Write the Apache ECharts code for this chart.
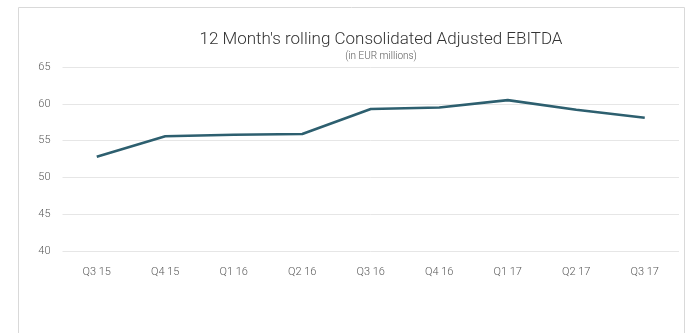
<!DOCTYPE html>
<html>
<head>
<meta charset="utf-8">
<script src="https://cdn.jsdelivr.net/npm/echarts@6/dist/echarts.min.js"></script>
<style>
html,body{margin:0;padding:0;background:#fff;}
#c{width:692px;height:333px;}
</style>
</head>
<body>
<div id="c"></div>
<script>
const categories = ['Q3 15','Q4 15','Q1 16','Q2 16','Q3 16','Q4 16','Q1 17','Q2 17','Q3 17'];
const ebitda = [52.8, 55.6, 55.8, 55.9, 59.3, 59.5, 60.5, 59.2, 58.1];
const yTicks = [40, 45, 50, 55, 60, 65];

const FONT = '"Roboto", sans-serif';
const chart = echarts.init(document.getElementById('c'));
chart.setOption({
  animation: false,
  graphic: [{
    type: 'rect',
    shape: {x: 18.5, y: 7.5, width: 666, height: 340},
    style: {fill: 'none', stroke: '#d9d9d9', lineWidth: 1},
    silent: true
  }],
  title: {
    text: "12 Month's rolling Consolidated Adjusted EBITDA",
    subtext: '(in EUR millions)',
    left: 376,
    textAlign: 'center',
    top: 26,
    itemGap: 3,
    textStyle: {fontFamily: FONT, fontSize: 17, fontWeight: 300, color: '#333'},
    subtextStyle: {fontFamily: FONT, fontSize: 10, fontWeight: 300, color: '#595959'}
  },
  grid: {left: 62.5, right: 13, top: 67, bottom: 82, containLabel: false},
  xAxis: {
    type: 'category',
    data: categories,
    boundaryGap: true,
    axisLine: {show: false},
    axisTick: {show: false},
    axisLabel: {fontFamily: FONT, fontSize: 11, fontWeight: 300, color: '#595959', margin: 16}
  },
  yAxis: {
    type: 'value',
    min: yTicks[0],
    max: yTicks[yTicks.length - 1],
    interval: 5,
    axisLine: {show: false},
    axisTick: {show: false},
    axisLabel: {fontFamily: FONT, fontSize: 11, fontWeight: 300, color: '#595959', margin: 12},
    splitLine: {lineStyle: {color: '#e6e6e6', width: 1}}
  },
  series: [{
    type: 'line',
    data: ebitda,
    symbol: 'none',
    lineStyle: {color: '#2d5f6f', width: 2.6},
    itemStyle: {color: '#2d5f6f'}
  }]
});
</script>
</body>
</html>
